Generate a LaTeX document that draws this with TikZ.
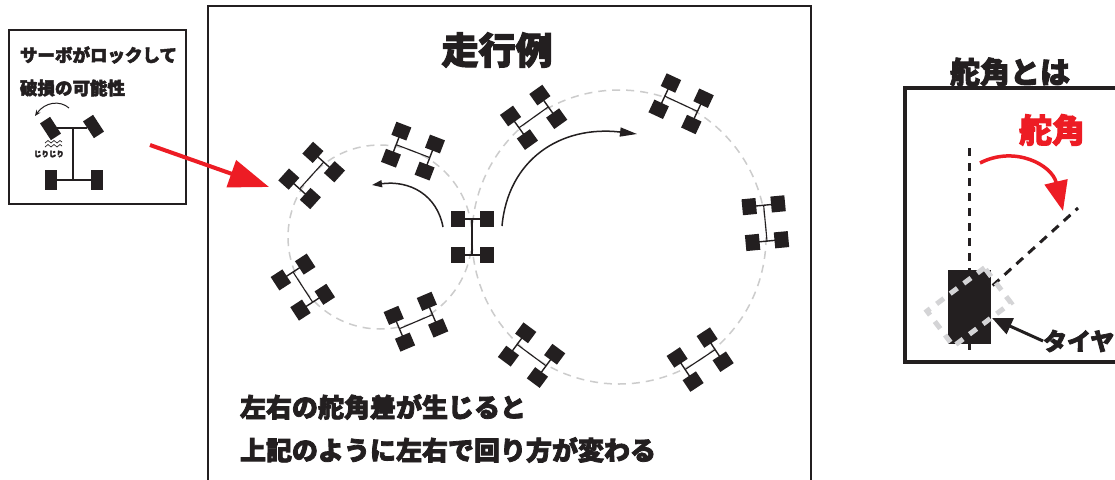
\documentclass[tikz,border=0pt]{standalone}
\usepackage{fontspec}
\newfontfamily\jp{Noto Sans CJK JP}[BoldFeatures={FakeBold=3}]
\usetikzlibrary{arrows.meta,calc}

\definecolor{ink}{HTML}{231F20}
\definecolor{alarm}{HTML}{ED1C24}
\definecolor{track}{HTML}{CCCCCC}
\definecolor{ghost}{HTML}{D4D4D6}

\tikzset{
  label jp/.style={inner sep=0pt, outer sep=0pt, text=ink, font=\jp\bfseries},
  trackline/.style={track, line width=1.5pt, dash pattern=on 8pt off 6pt},
  frame/.style={ink, line width=2pt},
  axle/.style={ink, line width=1.4pt},
  spine/.style={ink, line width=1.1pt},
}

% a four-wheel chassis seen from above, spine along the local y axis
\newcommand\chassis{%
  \draw[axle] (-14,-18) -- (14,-18) (-14,18) -- (14,18);
  \draw[spine] (0,-18) -- (0,18);
  \foreach \sx in {-14.5,14.5}
    \foreach \sy in {-18,18}
      \fill[ink] (\sx-7,\sy-8) rectangle (\sx+7,\sy+8);
}

\begin{document}
\begin{tikzpicture}[x=1pt, y=-1pt]
\useasboundingbox (0,0) rectangle (1115,479);
\clip (0,0) rectangle (1115,479);
\fill[white] (0,0) rectangle (1115,479);

% ---------- left panel: locked servo ----------
\draw[ink, line width=1.2pt] (9,30) rectangle (186,204);
\node[label jp, anchor=west, font=\jp\bfseries\fontsize{17.5}{17.5}\selectfont] (lockA) at (20,55) {サーボがロックして};
\node[label jp, anchor=west, font=\jp\bfseries\fontsize{17.5}{17.5}\selectfont] (lockB) at (20,88) {破損の可能性};
% small chassis
\draw[ink, line width=2.2pt] (73,128) -- (73,180);
\draw[ink, line width=2.2pt] (57,180) -- (91,180);
\draw[ink, line width=2.2pt] (57,128) -- (87,128);
\fill[ink] (45,170) rectangle (57,190);
\fill[ink] (91,170) rectangle (103,190);
\fill[ink, rotate around={33:(50.5,128.5)}] (44.5,118.5) rectangle (56.5,138.5);
\fill[ink, rotate around={33:(93.5,126.5)}] (87.5,116.5) rectangle (99.5,136.5);
\coordinate (turnS) at (69,108);
\coordinate (turnE) at (35,116);
\draw[ink, line width=1pt, -{Stealth[length=6pt,width=5pt]}] (turnS) .. controls (60,100) and (45,102) .. (turnE);
% grinding marks
\draw[ink, line width=0.7pt] (45,143) -- (48,140.5) -- (51,143) -- (54,140.5) -- (57,143) -- (60,140.5) -- (62,142);
\draw[ink, line width=0.7pt] (45,147) -- (48,144.5) -- (51,147) -- (54,144.5) -- (57,147) -- (60,144.5) -- (62,146);
\node[label jp, font=\jp\bfseries\fontsize{7.5}{7.5}\selectfont] (grind) at (49,154) {じりじり};

% ---------- centre panel: driving example ----------
\draw[frame] (208,490) -- (208,6) -- (811,6) -- (811,490);
\node[label jp, font=\jp\bfseries\fontsize{37}{37}\selectfont] (title) at (497,50) {走行例};

\coordinate (cl) at (380,237);
\coordinate (cr) at (619,237);
\draw[trackline] (cl) circle[radius=92];
\draw[trackline] (cr) circle[radius=147];

% cars around the small loop (the shared one sits at angle 0)
\foreach \a in {0,138,69,213,-67}{
  \begin{scope}[shift={(cl)}, rotate=\a, shift={(92,0)}]
    \chassis
  \end{scope}
}
% cars around the large loop
\foreach \a in {125.5,65,5.4,-56.5,233.5}{
  \begin{scope}[shift={(cr)}, rotate=\a, shift={(147,0)}]
    \chassis
  \end{scope}
}

\coordinate (smallS) at (443,227);
\coordinate (smallE) at (372,185);
\draw[ink, line width=1.5pt, -{Triangle[length=10pt,width=7pt]}] (smallS) .. controls (437,195) and (410,180) .. (smallE);
\coordinate (bigS) at (502,226);
\coordinate (bigE) at (637,134);
\draw[ink, line width=1.5pt, -{Triangle[length=17pt,width=9pt]}] (bigS) .. controls (508,160) and (560,125) .. (bigE);

\coordinate (redS) at (150,145);
\coordinate (redE) at (269,187);
\draw[alarm, line width=4pt, -{Triangle[length=40pt,width=28pt]}] (redS) -- (redE);

\node[label jp, anchor=west, font=\jp\bfseries\fontsize{26}{26}\selectfont] (noteA) at (240,407) {左右の舵角差が生じると};
\node[label jp, anchor=west, font=\jp\bfseries\fontsize{26}{26}\selectfont] (noteB) at (240,450) {上記のように左右で回り方が変わる};

% ---------- right panel: steering angle ----------
\node[label jp, font=\jp\bfseries\fontsize{30}{30}\selectfont] (whatis) at (1010,72) {舵角とは};
\draw[ink, line width=4pt] (905,88) rectangle (1140,362);
\node[label jp, text=alarm, font=\jp\bfseries\fontsize{33}{33}\selectfont] (angle) at (1052,130) {舵角};

\coordinate (axisTop) at (969,148);
\coordinate (axisBot) at (969,350);
\coordinate (hub) at (969,307);
\coordinate (steerEnd) at (1078,208);
\draw[ink, line width=3pt, dash pattern=on 8pt off 7pt] (axisTop) -- (axisBot);
\draw[ink, line width=3pt, dash pattern=on 9pt off 7pt] (hub) -- (steerEnd);
\fill[ink] (948,270) rectangle (991,344);
\draw[ghost, line width=5pt, dash pattern=on 9pt off 8pt, rotate around={-53:(969,307)}] (947,271) rectangle (991,343);

\coordinate (sweepS) at (980,163);
\coordinate (sweepE) at (1063,211);
\draw[alarm, line width=3.5pt, -{Triangle[length=30pt,width=23pt]}] (sweepS) .. controls (1015,145) and (1052,165) .. (sweepE);

\node[label jp, anchor=west, font=\jp\bfseries\fontsize{24}{24}\selectfont] (tire) at (1043,341) {タイヤ};
\coordinate (tireTip) at (992,318);
\draw[ink, line width=3pt, -{Triangle[length=20pt,width=17pt]}] (tire.west) -- (tireTip);
\end{tikzpicture}
\end{document}
